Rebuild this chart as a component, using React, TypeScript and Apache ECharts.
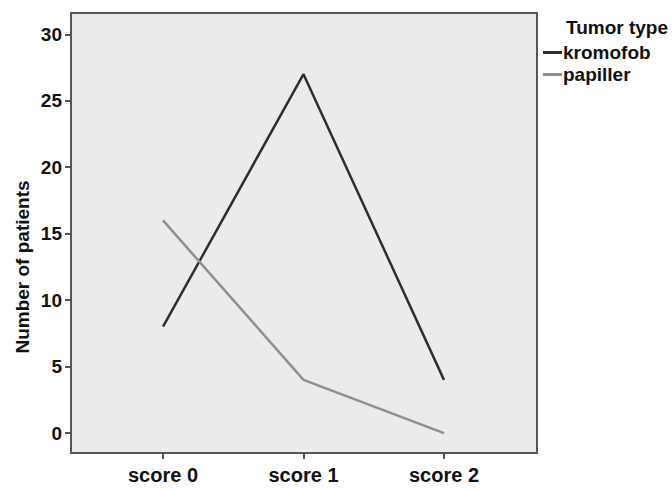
import React, { useEffect, useRef } from "react";
import * as echarts from "echarts";

const categories = ["score 0", "score 1", "score 2"];
const kromofob = [8, 27, 4];
const papiller = [16, 4, 0];
const yTicks = [0, 5, 10, 15, 20, 25, 30];
const seriesNames = ["kromofob", "papiller"];

const FONT = '"Liberation Sans", Arial, sans-serif';

export default function App() {
  const ref = useRef<HTMLDivElement>(null);
  useEffect(() => {
    if (!ref.current) return;
    const chart = echarts.init(ref.current, null, { renderer: "svg" });
    const toPts = (arr: number[]) => arr.map((v, i) => [i, v]);
    const catIdx = categories.map((_, i) => i);
    chart.setOption({
      animation: false,
      backgroundColor: "#ffffff",
      title: {
        text: "Tumor type",
        left: 566,
        top: 18,
        textStyle: { fontFamily: FONT, fontWeight: "bold", fontSize: 19, color: "#111" },
        padding: 0,
      },
      legend: {
        orient: "vertical",
        left: 543,
        top: 43,
        itemWidth: 19,
        itemHeight: 3,
        itemGap: 3,
        padding: 0,
        icon: "rect",
        data: seriesNames,
        textStyle: {
          fontFamily: FONT,
          fontWeight: "bold",
          fontSize: 19,
          color: "#111",
          lineHeight: 19,
          padding: [0, 0, 0, -4],
        },
      },
      grid: {
        left: 71,
        top: 13,
        right: 135,
        bottom: 36,
        show: true,
        backgroundColor: "#ebebeb",
        borderColor: "#555",
        borderWidth: 2,
      },
      xAxis: {
        type: "value",
        min: -0.655,
        max: 2.662,
        axisLine: { show: true, onZero: false, lineStyle: { color: "#555", width: 2 } },
        axisTick: {
          show: true,
          customValues: catIdx,
          length: 6,
          lineStyle: { color: "#555", width: 2 },
        },
        axisLabel: {
          customValues: catIdx,
          formatter: (v: number) => categories[Math.round(v)],
          margin: 12,
          fontFamily: FONT,
          fontWeight: "bold",
          fontSize: 20,
          color: "#111",
        },
        splitLine: { show: false },
      },
      yAxis: {
        type: "value",
        min: -1.5,
        max: 31.6,
        axisLine: { show: true, onZero: false, lineStyle: { color: "#555", width: 2 } },
        axisTick: {
          show: true,
          customValues: yTicks,
          length: 6,
          lineStyle: { color: "#555", width: 2 },
        },
        axisLabel: {
          customValues: yTicks,
          margin: 9,
          fontFamily: FONT,
          fontWeight: "bold",
          fontSize: 19,
          color: "#111",
        },
        splitLine: { show: false },
      },
      graphic: [
        {
          type: "text",
          x: 22,
          y: 267,
          rotation: Math.PI / 2,
          style: {
            text: "Number of patients",
            fontFamily: FONT,
            fontWeight: "bold",
            fontSize: 19,
            fill: "#111",
            textAlign: "center",
            textVerticalAlign: "middle",
          },
        },
      ],
      series: [
        {
          name: seriesNames[0],
          type: "line",
          data: toPts(kromofob),
          symbol: "none",
          color: "#2e2e2e",
          lineStyle: { color: "#2e2e2e", width: 2.5 },
        },
        {
          name: seriesNames[1],
          type: "line",
          data: toPts(papiller),
          symbol: "none",
          color: "#8f8f8f",
          lineStyle: { color: "#8f8f8f", width: 2.5 },
        },
      ],
    });
    return () => chart.dispose();
  }, []);
  return (
    <div
      ref={ref}
      style={{ position: "fixed", left: 0, top: 0, width: 672, height: 489 }}
    />
  );
}
